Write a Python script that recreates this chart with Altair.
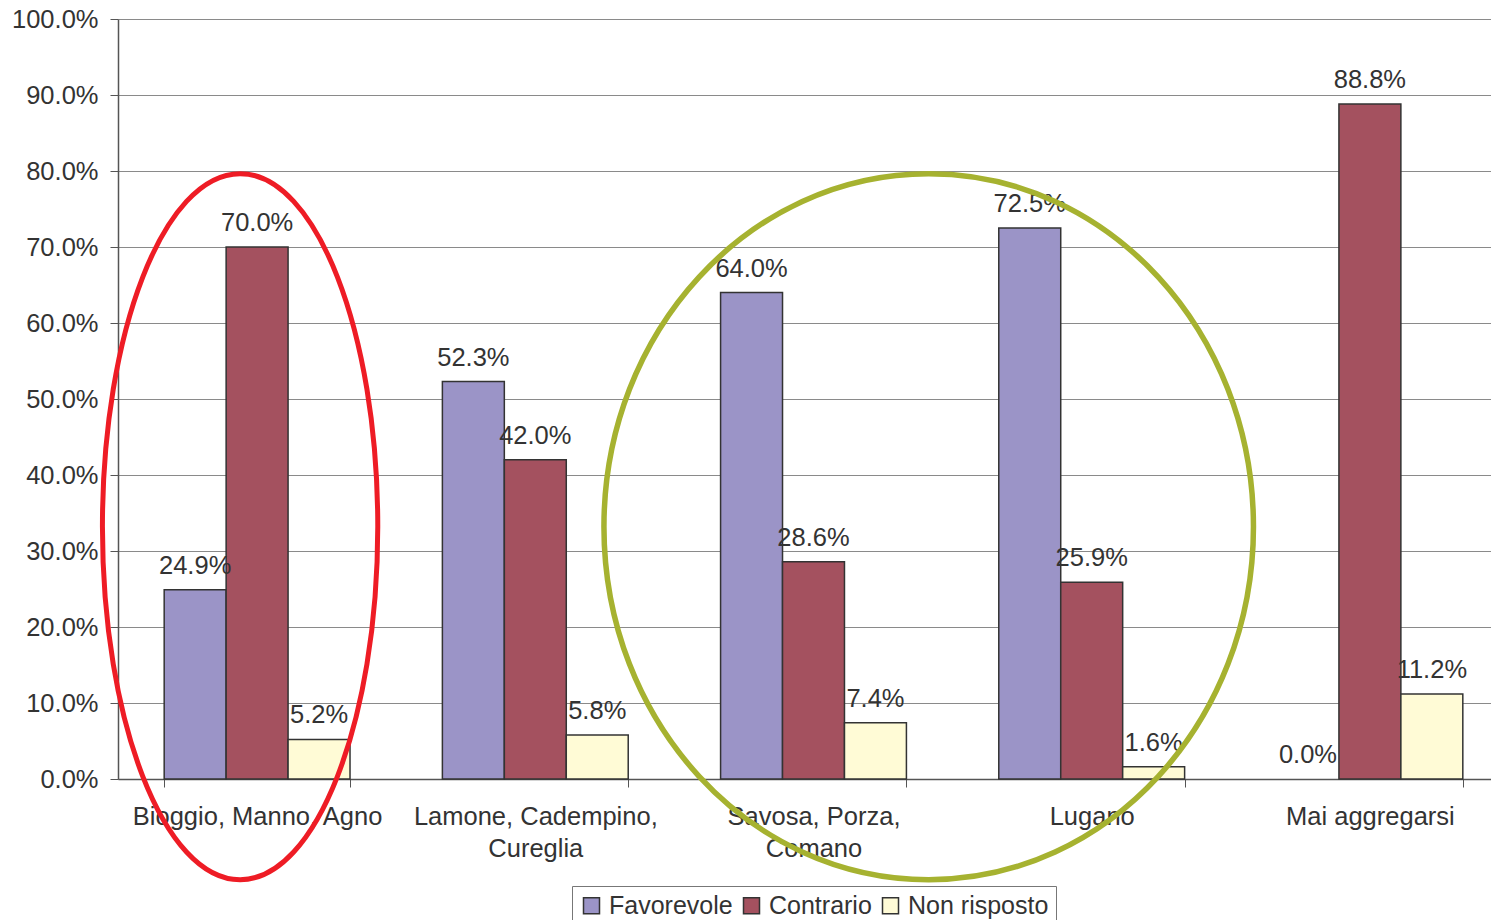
import altair as alt
import pandas as pd

categories = ["Bioggio, Manno, Agno", "Lamone, Cadempino, Cureglia",
              "Savosa, Porza, Comano", "Lugano", "Mai aggregarsi"]
category_lines = {
    "Lamone, Cadempino, Cureglia": ["Lamone, Cadempino,", "Cureglia"],
    "Savosa, Porza, Comano": ["Savosa, Porza,", "Comano"],
}
series = ["Favorevole", "Contrario", "Non risposto"]
favorevole = [24.9, 52.3, 64.0, 72.5, 0.0]
contrario = [70.0, 42.0, 28.6, 25.9, 88.8]
non_risposto = [5.2, 5.8, 7.4, 1.6, 11.2]
colors = ["#9B94C7", "#A4515F", "#FFFBD6"]

# annotation ellipses: category, centre value (%), x offset (px), half-width ratio, colour, stroke
ellipses = [
    {"cat": "Bioggio, Manno, Agno", "y": 33.2, "dx": -17, "ratio": 0.39,
     "color": "#EE1C25", "sw": 5},
    {"cat": "Lugano", "y": 33.2, "dx": -163, "ratio": 0.92,
     "color": "#A6B230", "sw": 5.5},
]

rows = []
for s, vals in zip(series, [favorevole, contrario, non_risposto]):
    for c, v in zip(categories, vals):
        rows.append({"cat": c, "series": s, "value": v})
df = pd.DataFrame(rows)

FONT = "Liberation Sans"
TXT = "#333333"
FS = 25.5

expr_parts = []
for c, lines in category_lines.items():
    expr_parts.append(f"datum.value == '{c}' ? {lines!r}")
label_expr = " : ".join(expr_parts) + " : datum.value"

x_enc = alt.X(
    "cat:N",
    sort=categories,
    title=None,
    scale=alt.Scale(range=[0, 1391], paddingInner=0.332, paddingOuter=0.166),
    axis=alt.Axis(
        labelAngle=0, tickBand="extent", tickSize=8, tickColor="#555555",
        domainColor="#555555", domainWidth=1.5, labelFontSize=FS, labelFont=FONT,
        labelColor=TXT, labelPadding=17, labelLineHeight=32, labelExpr=label_expr,
        grid=False, labelLimit=400,
    ),
)
y_enc = alt.Y(
    "value:Q",
    title=None,
    scale=alt.Scale(domain=[0, 100], nice=False),
    axis=alt.Axis(
        values=list(range(0, 101, 10)), labelExpr="format(datum.value, '.1f') + '%'",
        tickSize=8, tickColor="#555555", domainColor="#555555", domainWidth=1.5,
        labelFontSize=FS, labelFont=FONT, labelColor=TXT, labelPadding=12,
        gridColor="#8a8a8a", gridWidth=1,
    ),
)
xoff = alt.XOffset("series:N", sort=series,
                   scale=alt.Scale(domain=series, paddingInner=0, paddingOuter=0))

bars = alt.Chart(df).transform_filter("datum.value > 0").mark_bar(
    stroke="#333333", strokeWidth=1.5
).encode(
    x=x_enc,
    y=y_enc,
    xOffset=xoff,
    color=alt.Color(
        "series:N", sort=series,
        scale=alt.Scale(domain=series, range=colors),
        legend=alt.Legend(
            title=None, orient="none", legendX=454, legendY=867, direction="horizontal",
            symbolType="square", symbolSize=256, symbolStrokeColor="#333333",
            symbolStrokeWidth=1.5, symbolOpacity=1, labelFontSize=25, labelFont=FONT,
            labelColor=TXT, strokeColor="#777777", fillColor="white", padding=7,
            columnPadding=6, labelOffset=5,
        ),
    ),
)

labels = alt.Chart(df).transform_calculate(
    label="format(datum.value, '.1f') + '%'"
).mark_text(dy=-16, baseline="alphabetic", fontSize=FS, font=FONT, color=TXT).encode(
    x=alt.X("cat:N", sort=categories),
    y="value:Q",
    xOffset=xoff,
    text="label:N",
)

layers = [bars, labels]
for e in ellipses:
    r = e["ratio"]
    path = f"M {-r} 0 A {r} 1 0 1 1 {r} 0 A {r} 1 0 1 1 {-r} 0 Z"
    edf = pd.DataFrame([{"cat": e["cat"], "y": e["y"]}])
    layers.append(
        alt.Chart(edf).mark_point(
            shape=path, filled=False, stroke=e["color"], strokeWidth=e["sw"],
            size=706 * 706, opacity=1, xOffset=e["dx"],
        ).encode(x=alt.X("cat:N", sort=categories), y="y:Q")
    )

chart = alt.layer(*layers).properties(
    width=1373, height=760,
    autosize=alt.AutoSizeParams(type="none"),
    padding={"left": 110, "top": 11, "right": 0, "bottom": 141},
    background="white",
).configure_view(stroke=None)

chart.save("out.html", embed_options={"renderer": "svg", "actions": False})
